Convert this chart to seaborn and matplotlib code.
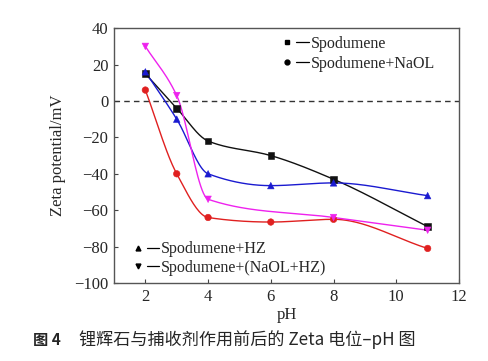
import numpy as np
import pandas as pd
import matplotlib
matplotlib.use("Agg")
import matplotlib.pyplot as plt
import seaborn as sns
from matplotlib.lines import Line2D
from matplotlib.legend_handler import HandlerTuple

# ---- data ----
ph_spod = [2, 3, 4, 6, 8, 11]
zeta_spod = [15, -4, -22, -30, -43, -69]
ph_naol = [2, 3, 4, 6, 8, 11]
zeta_naol = [6, -40, -64, -66.5, -65, -81]
ph_hz = [2, 3, 4, 6, 8, 11]
zeta_hz = [16, -10, -40, -46.5, -45, -52]
ph_mix = [2, 3, 4, 8, 11]
zeta_mix = [30, 3, -54, -64, -71]

labels = ["Spodumene", "Spodumene+NaOL", "Spodumene+HZ", "Spodumene+(NaOL+HZ)"]
colors = ["#111111", "#e02020", "#1a1ad0", "#ee22ee"]
markers = ["s", "o", "^", "v"]
caption_bold = "图 4"
caption_text = "锂辉石与捕收剂作用前后的 Zeta 电位–pH 图"


def pchip(x, y, xs):
    x = np.asarray(x, float); y = np.asarray(y, float)
    h = np.diff(x); d = np.diff(y) / h
    n = len(x); m = np.zeros(n)
    for k in range(1, n - 1):
        if d[k - 1] * d[k] > 0:
            w1 = 2 * h[k] + h[k - 1]; w2 = h[k] + 2 * h[k - 1]
            m[k] = (w1 + w2) / (w1 / d[k - 1] + w2 / d[k])
    m[0] = d[0]; m[-1] = d[-1]
    out = np.empty_like(xs)
    for i, xv in enumerate(xs):
        k = min(np.searchsorted(x, xv, side="right") - 1, n - 2)
        k = max(k, 0)
        t = (xv - x[k]) / h[k]
        h00 = 2 * t**3 - 3 * t**2 + 1; h10 = t**3 - 2 * t**2 + t
        h01 = -2 * t**3 + 3 * t**2; h11 = t**3 - t**2
        out[i] = h00 * y[k] + h10 * h[k] * m[k] + h01 * y[k + 1] + h11 * h[k] * m[k + 1]
    return out


sns.set_style("ticks")
plt.rcParams["font.family"] = ["Liberation Serif", "DejaVu Serif"]
plt.rcParams["mathtext.fontset"] = "stix"

fig = plt.figure(figsize=(4.88, 3.61), dpi=100)
ax = fig.add_axes([0.2336, 0.216, 0.707, 0.706])

series = [(ph_spod, zeta_spod), (ph_naol, zeta_naol), (ph_hz, zeta_hz), (ph_mix, zeta_mix)]
rows = []
pts = []
for (px, pz), lab in zip(series, labels):
    xs = np.linspace(px[0], px[-1], 200)
    ys = pchip(px, pz, xs)
    rows.append(pd.DataFrame({"pH": xs, "zeta": ys, "series": lab}))
    pts.append(pd.DataFrame({"pH": px, "zeta": pz, "series": lab}))
curves = pd.concat(rows, ignore_index=True)
points = pd.concat(pts, ignore_index=True)

pal = dict(zip(labels, colors))
mk = dict(zip(labels, markers))
sns.lineplot(data=curves, x="pH", y="zeta", hue="series", palette=pal, ax=ax,
             linewidth=1.0, legend=False, sort=False, estimator=None)
sns.scatterplot(data=points, x="pH", y="zeta", hue="series", style="series",
                palette=pal, markers=mk, ax=ax, s=22, linewidth=0.4,
                edgecolor=None, legend=False, zorder=3)

ax.axhline(0, color="#333333", linestyle=(0, (4, 3)), linewidth=1.0, zorder=1)

ax.set_xlim(1, 12)
ax.set_ylim(-100, 40)
ax.set_xticks([2, 4, 6, 8, 10, 12])
ax.set_yticks(np.arange(-100, 41, 20))
ax.tick_params(direction="in", length=3, width=0.8, labelsize=12, color="#444444", pad=4)
for s in ax.spines.values():
    s.set_visible(True)
    s.set_color("#555555")
    s.set_linewidth(1.0)
ax.set_xlabel("pH", fontsize=12, labelpad=2)
ax.set_ylabel("Zeta potential/mV", fontsize=12, labelpad=6)


def handle(m):
    return (Line2D([], [], marker=m, color="black", linestyle="none", markersize=3.5),
            Line2D([], [], color="black", linewidth=0.9))


hm = {tuple: HandlerTuple(ndivide=None, pad=0.15)}
leg1 = ax.legend([handle("s"), handle("o")], labels[:2], loc="upper left",
                 bbox_to_anchor=(0.45, 1.015), frameon=False, fontsize=11.5,
                 handler_map=hm, handlelength=1.8, handletextpad=0.1,
                 labelspacing=0.25, borderaxespad=0.3)
ax.add_artist(leg1)
ax.legend([handle("^"), handle("v")], labels[2:], loc="lower left",
          bbox_to_anchor=(0.02, -0.015), frameon=False, fontsize=11.5,
          handler_map=hm, handlelength=1.7, handletextpad=0.1,
          labelspacing=0.15, borderaxespad=0.3)

cjk = ["Noto Sans CJK SC", "DejaVu Sans"]
fig.text(0.068, 0.058, caption_bold, fontsize=11, fontweight="bold", family=cjk,
         ha="left", va="center")
fig.text(0.162, 0.058, caption_text, fontsize=12.3, family=cjk, ha="left", va="center")

fig.savefig("out.png", dpi=100)
